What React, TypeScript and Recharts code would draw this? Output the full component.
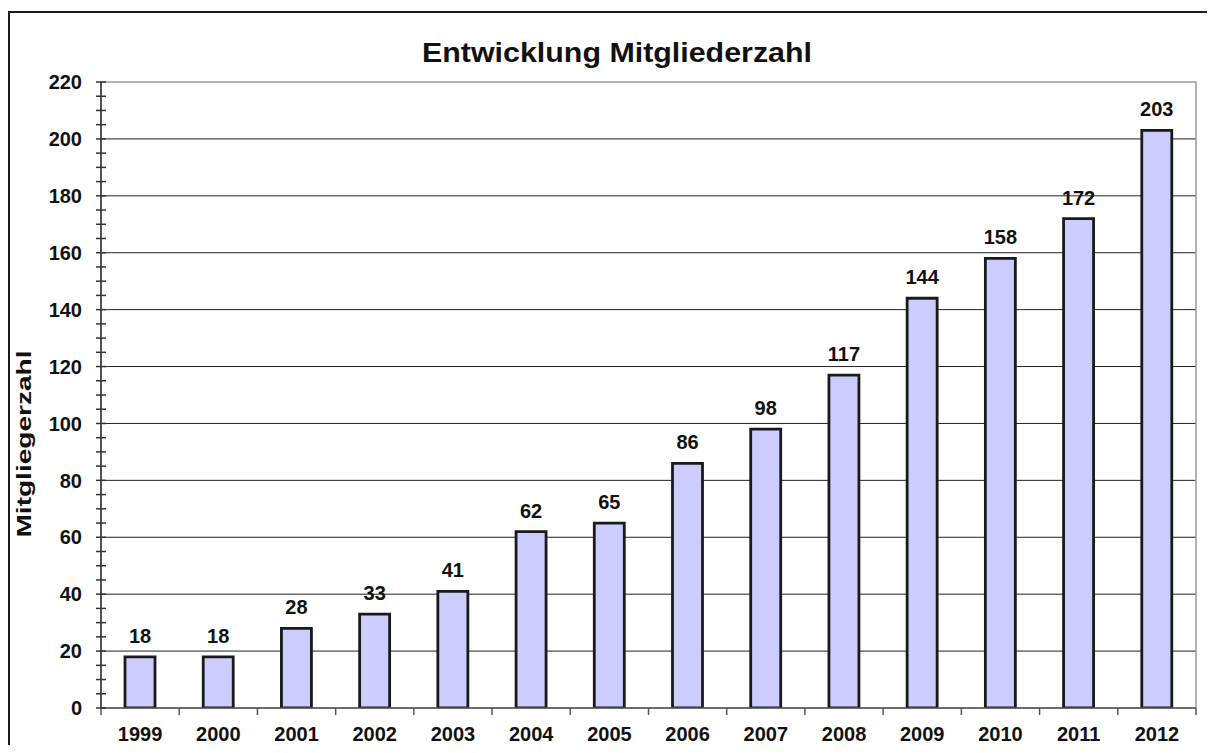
import React from "react";
import { BarChart, Bar, XAxis, YAxis, CartesianGrid, LabelList, ReferenceArea } from "recharts";

const years = ["1999", "2000", "2001", "2002", "2003", "2004", "2005", "2006", "2007", "2008", "2009", "2010", "2011", "2012"];
const members = [18, 18, 28, 33, 41, 62, 65, 86, 98, 117, 144, 158, 172, 203];
const yTicks = [0, 5, 10, 15, 20, 25, 30, 35, 40, 45, 50, 55, 60, 65, 70, 75, 80, 85, 90, 95, 100, 105, 110, 115, 120, 125, 130, 135, 140, 145, 150, 155, 160, 165, 170, 175, 180, 185, 190, 195, 200, 205, 210, 215, 220];
const gridValues = [20, 40, 60, 80, 100, 120, 140, 160, 180, 200];
const titleText = "Entwicklung Mitgliederzahl";
const yLabelText = "Mitgliegerzahl";

const data = years.map((y, i) => ({ year: y, value: members[i] }));

const FONT = "'Liberation Sans', Arial, Helvetica, sans-serif";
const TEXT = "#111";

const W = 1199;
const H = 737;
const M = { top: 74, right: 11, bottom: 7, left: 33 };
const Y_W = 60;
const PLOT_W = W - M.left - M.right - Y_W;

const YTick = (props: any) => {
  const { x, y, payload } = props;
  const v = payload.value;
  const major = v % 20 === 0;
  return (
    <g>
      <line x1={x - 5} x2={x + 5} y1={y} y2={y} stroke="#333" strokeWidth={1.5} />
      {major && (
        <text x={x - 19} y={y} dy="0.36em" textAnchor="end" fontFamily={FONT} fontWeight="bold" fontSize={20} fill={TEXT}>
          {v}
        </text>
      )}
    </g>
  );
};

const XTick = (props: any) => {
  const { x, y, payload, index } = props;
  const half = payload && payload.offset ? payload.offset : PLOT_W / years.length / 2;
  const last = index === years.length - 1;
  return (
    <g>
      <line x1={x - half} x2={x - half} y1={y} y2={y + 7} stroke="#555" strokeWidth={1.5} />
      {last && <line x1={x + half} x2={x + half} y1={y} y2={y + 7} stroke="#555" strokeWidth={1.5} />}
      <text x={x} y={y + 33} textAnchor="middle" fontFamily={FONT} fontWeight="bold" fontSize={20} fill={TEXT}>
        {payload.value}
      </text>
    </g>
  );
};

export default function App() {
  return (
    <div style={{ position: "relative", width: W, height: H, overflow: "hidden", background: "#fff" }}>
      <div
        style={{
          position: "absolute",
          left: 0,
          top: 3,
          width: 1300,
          height: 900,
          border: "2px solid #1a1a1a",
          boxSizing: "border-box",
        }}
      />
      <div style={{ position: "absolute", left: 0, top: 0 }}>
        <BarChart width={W} height={H} data={data} margin={M}>
          <CartesianGrid horizontal={true} vertical={false} horizontalValues={gridValues} stroke="#222" strokeWidth={1} />
          <ReferenceArea y1={0} y2={220} fill="none" stroke="#999" strokeWidth={1.5} ifOverflow="visible" />
          <XAxis
            dataKey="year"
            tick={<XTick />}
            tickSize={0}
            tickMargin={0}
            tickLine={false}
            interval={0}
            axisLine={{ stroke: "#555", strokeWidth: 1.5 }}
            height={30}
          />
          <YAxis
            type="number"
            domain={[0, 220]}
            ticks={yTicks}
            interval={0}
            tick={<YTick />}
            tickSize={0}
            tickMargin={0}
            tickLine={false}
            axisLine={{ stroke: "#333", strokeWidth: 1.5 }}
            width={Y_W}
            allowDataOverflow={true}
          />
          <Bar dataKey="value" fill="#CCCCFF" stroke="#1a1a1a" strokeWidth={2.8} barSize={30} isAnimationActive={false}>
            <LabelList
              dataKey="value"
              position="top"
              offset={14}
              fontFamily={FONT}
              fontWeight="bold"
              fontSize={20}
              fill={TEXT}
            />
          </Bar>
        </BarChart>
      </div>
      <svg width={W} height={H} style={{ position: "absolute", left: 0, top: 0, pointerEvents: "none" }}>
        <text
          x={609}
          y={54}
          textAnchor="middle"
          fontFamily={FONT}
          fontWeight="bold"
          fontSize={27}
          fill={TEXT}
          textLength={390}
          lengthAdjust="spacingAndGlyphs"
        >
          {titleText}
        </text>
        <text
          x={15}
          y={436}
          transform="rotate(-90 15 436)"
          textAnchor="middle"
          dominantBaseline="central"
          fontFamily={FONT}
          fontWeight="bold"
          fontSize={21}
          fill={TEXT}
          textLength={187}
          lengthAdjust="spacingAndGlyphs"
        >
          {yLabelText}
        </text>
      </svg>
    </div>
  );
}
